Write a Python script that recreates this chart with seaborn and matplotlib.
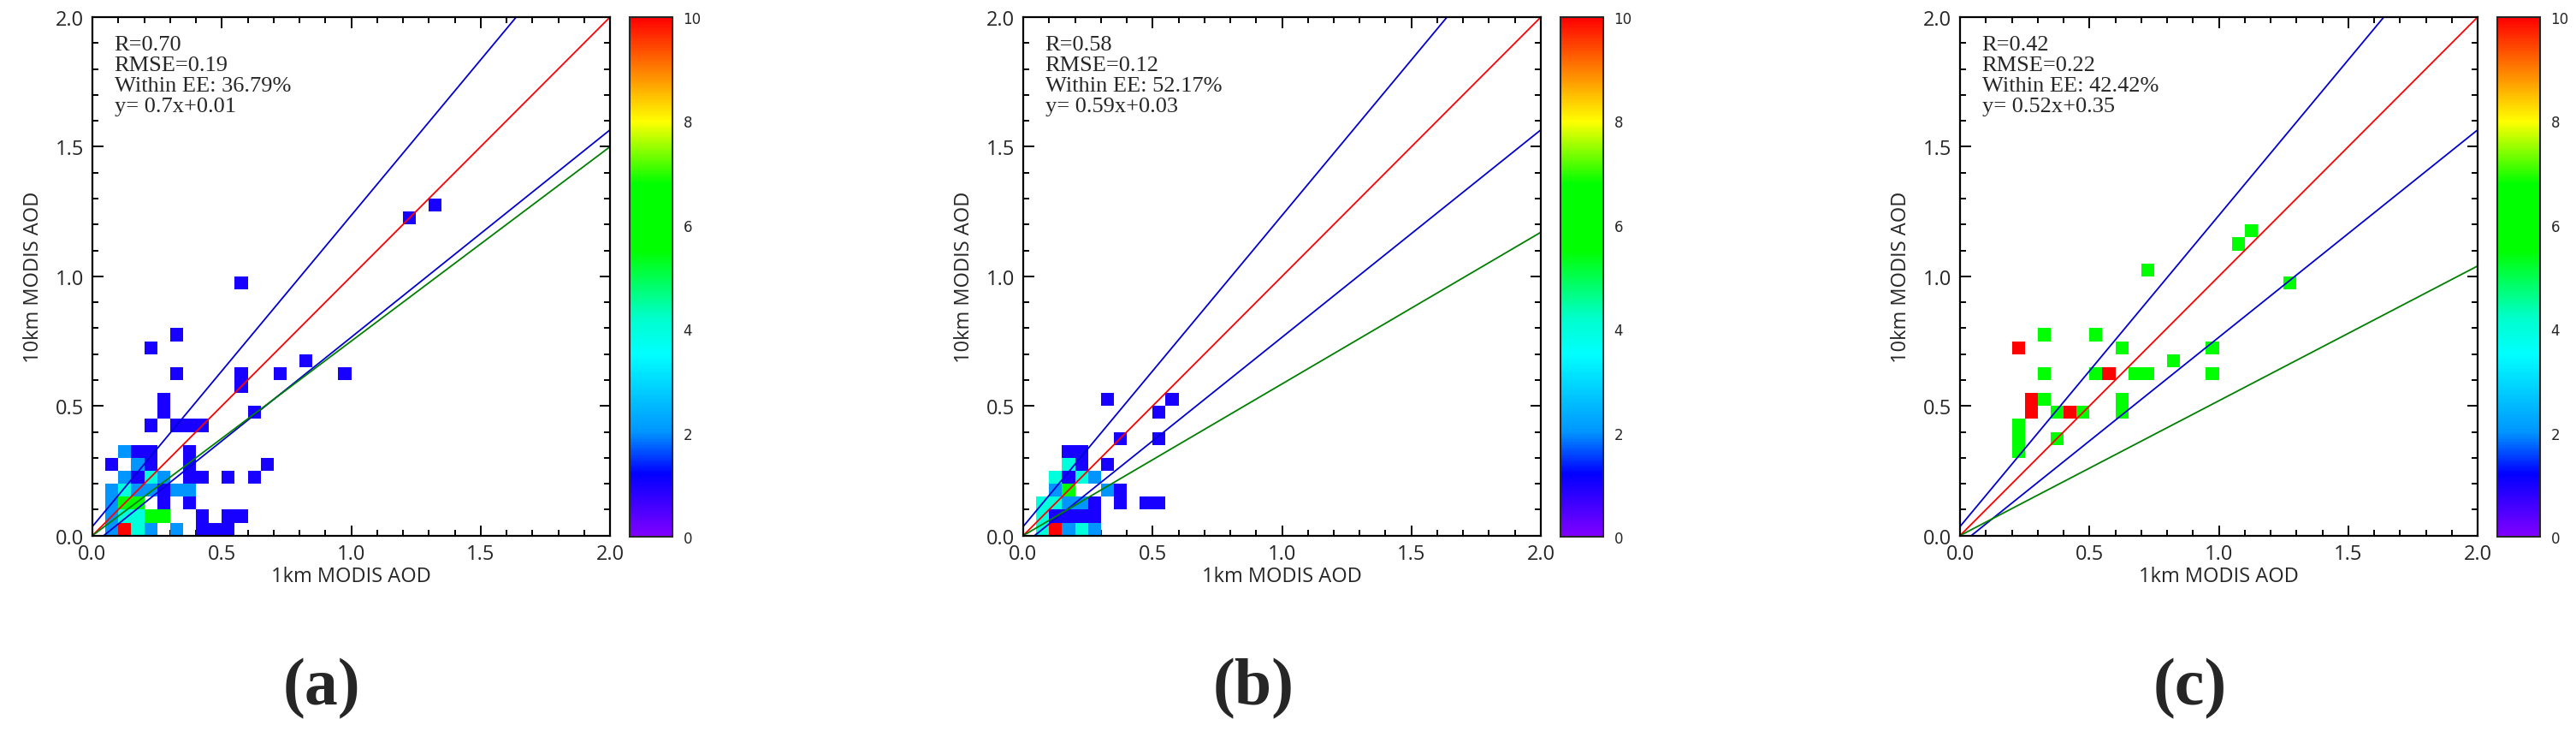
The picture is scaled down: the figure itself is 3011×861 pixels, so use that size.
import numpy as np
import pandas as pd
import matplotlib
matplotlib.use("Agg")
import matplotlib.pyplot as plt
from matplotlib.colors import LinearSegmentedColormap
from matplotlib.ticker import MultipleLocator, FormatStrFormatter
import seaborn as sns

# 0.05 AOD bins: bin centres (1km, 10km) and counts per bin
a_x = [0.075, 0.125, 0.175, 0.225, 0.325, 0.425, 0.475, 0.525,
       0.075, 0.125, 0.175, 0.225, 0.275, 0.425, 0.525, 0.575,
       0.075, 0.125, 0.175, 0.275, 0.375,
       0.075, 0.125, 0.175, 0.225, 0.275, 0.325, 0.375,
       0.125, 0.175, 0.225, 0.275, 0.375, 0.425, 0.525, 0.625,
       0.075, 0.175, 0.225, 0.375, 0.675,
       0.125, 0.175, 0.225, 0.375,
       0.225, 0.325, 0.375, 0.425,
       0.275, 0.625, 0.275, 0.575,
       0.325, 0.575, 0.725, 0.975,
       0.825, 0.225, 0.325, 0.575, 1.225, 1.325]
a_y = [0.025] * 8 + [0.075] * 8 + [0.125] * 5 + [0.175] * 7 + [0.225] * 8 + \
      [0.275] * 5 + [0.325] * 4 + [0.425] * 4 + \
      [0.475, 0.475, 0.525, 0.575] + [0.625] * 4 + \
      [0.675, 0.725, 0.775, 0.975, 1.225, 1.275]
a_n = [2, 10, 4, 2, 2, 1, 1, 1,
       2, 4, 4, 6, 6, 1, 1, 1,
       2, 6, 6, 1, 1,
       2, 4, 2, 2, 1, 2, 2,
       2, 1, 4, 2, 1, 1, 1, 1,
       1, 2, 1, 1, 1,
       2, 1, 1, 1,
       1, 1, 1, 1,
       1, 1, 1, 1,
       1, 1, 1, 1,
       1, 1, 1, 1, 1, 1]

b_x = [0.075, 0.125, 0.175, 0.225, 0.275,
       0.075, 0.125, 0.175, 0.225, 0.275,
       0.075, 0.125, 0.175, 0.225, 0.275, 0.375, 0.475, 0.525,
       0.125, 0.175, 0.325, 0.375,
       0.125, 0.175, 0.225, 0.275,
       0.175, 0.225, 0.325,
       0.175, 0.225,
       0.375, 0.525, 0.525, 0.325, 0.575]
b_y = [0.025] * 5 + [0.075] * 5 + [0.125] * 8 + [0.175] * 4 + [0.225] * 4 + \
      [0.275] * 3 + [0.325] * 2 + [0.375, 0.375, 0.475, 0.525, 0.525]
b_n = [4, 10, 2, 4, 2,
       4, 1, 1, 1, 1,
       4, 4, 2, 2, 1, 1, 1, 1,
       2, 6, 2, 1,
       4, 1, 4, 2,
       4, 1, 1,
       1, 1,
       1, 1, 1, 1, 1]

c_x = [0.225, 0.225, 0.225, 0.225, 0.275, 0.275, 0.325, 0.375, 0.425, 0.475,
       0.375, 0.325, 0.325, 0.525, 0.625, 0.525, 0.575, 0.675, 0.725,
       0.625, 0.625, 0.825, 0.975, 0.975, 0.725, 1.075, 1.125, 1.275]
c_y = [0.325, 0.375, 0.425, 0.725, 0.475, 0.525, 0.525, 0.475, 0.475, 0.475,
       0.375, 0.625, 0.775, 0.775, 0.725, 0.625, 0.625, 0.625, 0.625,
       0.475, 0.525, 0.675, 0.725, 0.625, 1.025, 1.125, 1.175, 0.975]
c_n = [6, 6, 6, 10, 10, 10, 6, 6, 10, 6,
       6, 6, 6, 6, 6, 6, 10, 6, 6,
       6, 6, 6, 6, 6, 6, 6, 6, 6]

stats_a = ["R=0.70", "RMSE=0.19", "Within EE: 36.79%", "y= 0.7x+0.01"]
stats_b = ["R=0.58", "RMSE=0.12", "Within EE: 52.17%", "y= 0.59x+0.03"]
stats_c = ["R=0.42", "RMSE=0.22", "Within EE: 42.42%", "y= 0.52x+0.35"]

# slope of the green fit line as drawn in each panel
fit_slope = [0.75, 0.585, 0.52]
tags = ["(a)", "(b)", "(c)"]

sns.set_style("ticks")
plt.rcParams["font.family"] = ["Open Sans", "DejaVu Sans"]

cmap = LinearSegmentedColormap.from_list("rainbow_idl", [
    (0.00, "#8000ff"), (0.12, "#0000ff"), (0.20, "#0095ff"),
    (0.35, "#00ffff"), (0.42, "#00ffcc"), (0.55, "#00ff00"),
    (0.68, "#00ff00"), (0.80, "#ffff00"), (0.90, "#ff8000"),
    (1.00, "#ff0000")])

W, H = 3011, 862
fig = plt.figure(figsize=(W / 100, H / 100), dpi=100)

panels = [(a_x, a_y, a_n, stats_a), (b_x, b_y, b_n, stats_b), (c_x, c_y, c_n, stats_c)]
lefts = [108, 1196, 2291]
tag_x = [376, 1465, 2560]
xx = np.array([0.0, 2.0])

for k, (px, py, pn, stats) in enumerate(panels):
    ax = fig.add_axes([lefts[k] / W, (H - 626.7) / H, 605 / W, 605.7 / H])
    cax = fig.add_axes([(lefts[k] + 628) / W, (H - 628) / H, 50 / W, 607 / H])
    df = pd.DataFrame({"x": px, "y": py, "n": pn})
    sns.histplot(data=df, x="x", y="y", weights="n", binwidth=0.05,
                 binrange=((0, 2), (0, 2)), cmap=cmap, vmin=0, vmax=10,
                 cbar=True, cbar_ax=cax, ax=ax)

    # 1:1 line, expected-error envelope and fitted line
    ax.plot(xx, xx, color="#ff0000", lw=1.3)
    ax.plot(xx, 1.2 * xx + 0.035, color="#0000d0", lw=1.3)
    ax.plot(xx, 0.8 * xx - 0.035, color="#0000d0", lw=1.3)
    ax.plot(xx, fit_slope[k] * xx, color="#008000", lw=1.3)

    ax.set_xlim(0, 2)
    ax.set_ylim(0, 2)
    ax.xaxis.set_major_locator(MultipleLocator(0.5))
    ax.yaxis.set_major_locator(MultipleLocator(0.5))
    ax.xaxis.set_minor_locator(MultipleLocator(0.1))
    ax.yaxis.set_minor_locator(MultipleLocator(0.1))
    ax.xaxis.set_major_formatter(FormatStrFormatter("%.1f"))
    ax.yaxis.set_major_formatter(FormatStrFormatter("%.1f"))
    ax.tick_params(which="both", direction="in", top=True, right=True,
                   bottom=True, left=True, width=1.4, color="black")
    ax.tick_params(which="major", length=9, labelsize=17, pad=7)
    ax.tick_params(which="minor", length=5)
    for s in ax.spines.values():
        s.set_color("black")
        s.set_linewidth(1.6)
    ax.set_xlabel("1km MODIS AOD", fontsize=17, labelpad=1)
    ax.set_ylabel("10km MODIS AOD", fontsize=17, labelpad=10)

    ax.text(0.085, 1.93, "\n".join(stats), family="Liberation Serif",
            fontsize=19, va="top", ha="left", linespacing=1.12)

    cax.set_yticks([0, 2, 4, 6, 8, 10])
    cax.tick_params(length=0, labelsize=12, pad=9)
    for lab in cax.get_yticklabels():
        lab.set_family("DejaVu Sans")
    for s in cax.spines.values():
        s.set_linewidth(1.5)
    fig.text(tag_x[k] / W, 1 - 805 / H, tags[k], family="Liberation Serif",
             weight="bold", fontsize=56, ha="center", va="center")

fig.savefig("out.png", dpi=100, facecolor="white")
